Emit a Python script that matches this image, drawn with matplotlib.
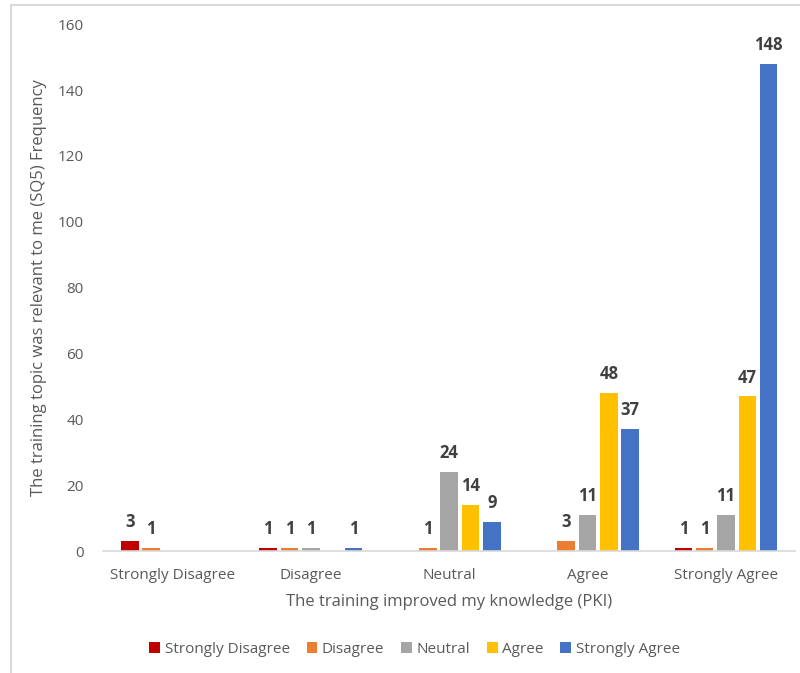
import matplotlib.pyplot as plt
import numpy as np
from matplotlib.patches import Rectangle

plt.rcParams['font.family'] = ['Open Sans', 'DejaVu Sans']

groups = ["Strongly Disagree", "Disagree", "Neutral", "Agree", "Strongly Agree"]
series = ["Strongly Disagree", "Disagree", "Neutral", "Agree", "Strongly Agree"]
colors = ["#C00000", "#ED7D31", "#A5A5A5", "#FFC000", "#4472C4"]

strongly_disagree = [3, 1, 0, 0, 1]
disagree = [1, 1, 1, 3, 1]
neutral = [0, 1, 24, 11, 11]
agree = [0, 0, 14, 48, 47]
strongly_agree = [0, 1, 9, 37, 148]
values = [strongly_disagree, disagree, neutral, agree, strongly_agree]

fig = plt.figure(figsize=(8, 6.73), dpi=100)
ax = fig.add_axes([0.129, 0.181, 0.865, 0.783])

# light frame around the chart
fig.patches.append(Rectangle((11 / 800, -0.05), 1.1, 1 - 5 / 673 + 0.05,
                             transform=fig.transFigure, fill=False,
                             edgecolor="#D9D9D9", linewidth=1.5))

x = np.arange(len(groups))
step = 0.154
width = 0.127
for i, (name, vals, c) in enumerate(zip(series, values, colors)):
    pos = x + (i - 2) * step
    bars = ax.bar(pos, vals, width, color=c, label=name)
    for b, v in zip(bars, vals):
        if v > 0:
            ax.text(b.get_x() + b.get_width() / 2, v + 3, str(v),
                    ha="center", va="bottom", fontsize=12,
                    fontweight="bold", color="#404040")

ax.set_xlim(-0.5, 4.5)
ax.set_ylim(0, 160)
ax.set_yticks(range(0, 161, 20))
ax.set_xticks(x)
ax.set_xticklabels(groups)
ax.tick_params(axis="both", length=0, labelsize=11, colors="#595959")
ax.tick_params(axis="x", pad=12)
ax.tick_params(axis="y", pad=14)
for s in ["top", "right", "left"]:
    ax.spines[s].set_visible(False)
ax.spines["bottom"].set_color("#D9D9D9")
ax.spines["bottom"].set_linewidth(1.2)

ax.set_xlabel("The training improved my knowledge (PKI)", fontsize=12,
              color="#595959", labelpad=8)
ax.set_ylabel("The training topic was relevant to me (SQ5) Frequency",
              fontsize=12, color="#595959", labelpad=8)

leg = ax.legend(loc="center", bbox_to_anchor=(0.45, -0.186), ncol=5,
                frameon=False, fontsize=11, handlelength=0.7,
                handleheight=0.7, handletextpad=0.3, columnspacing=1.1)
for t in leg.get_texts():
    t.set_color("#595959")

fig.savefig("out.png", dpi=100)
